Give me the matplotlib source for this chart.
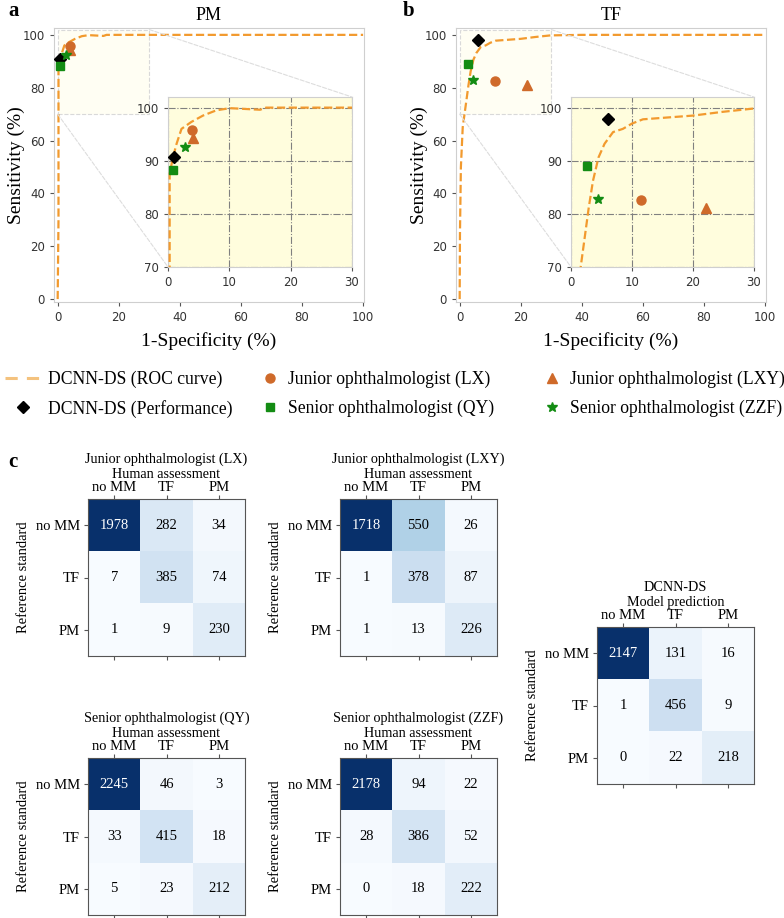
import matplotlib
matplotlib.use('Agg')
import matplotlib.pyplot as plt
import numpy as np
from matplotlib.lines import Line2D
from matplotlib.patches import Rectangle, ConnectionPatch

plt.rcParams['font.family'] = ['Liberation Serif', 'DejaVu Serif']

# ROC curves (1-specificity %, sensitivity %)
pm_fpr = [0, 0.27, 0.27, 0.8, 1.4, 2.2, 3.8, 5.7, 7.9, 10.1, 15, 16, 30, 100]
pm_tpr = [0, 30, 87.5, 90.6, 93.2, 96.0, 97.3, 98.5, 99.5, 99.9, 99.6, 100, 100, 100]
tf_fpr = [0, 0.1, 0.4, 1.0, 1.6, 2.3, 2.9, 3.6, 4.5, 5.5, 6.9, 8.5, 10, 11.8, 20, 24.8, 29.7, 40, 100]
tf_tpr = [0, 25, 50, 65, 70.1, 76, 81.1, 86.2, 90.6, 93.2, 95.4, 96, 97, 97.8, 98.5, 99.2, 99.8, 100, 100]

# operating points: DCNN-DS, LX, LXY, QY, ZZF
reader_names = ['DCNN-DS (Performance)', 'Junior ophthalmologist (LX)',
                'Junior ophthalmologist (LXY)', 'Senior ophthalmologist (QY)',
                'Senior ophthalmologist (ZZF)']
pm_x = [0.9, 3.9, 4.1, 0.8, 2.7]
pm_y = [90.8, 95.8, 94.2, 88.3, 92.5]
tf_x = [6.0, 11.5, 22.2, 2.7, 4.4]
tf_y = [97.9, 82.6, 81.1, 89.1, 82.8]

# confusion matrices (rows: reference standard, cols: assessment)
class_labels = ['no MM', 'TF', 'PM']
cm_lx = [[1978, 282, 34], [7, 385, 74], [1, 9, 230]]
cm_lxy = [[1718, 550, 26], [1, 378, 87], [1, 13, 226]]
cm_qy = [[2245, 46, 3], [33, 415, 18], [5, 23, 212]]
cm_zzf = [[2178, 94, 22], [28, 386, 52], [0, 18, 222]]
cm_dcnn = [[2147, 131, 16], [1, 456, 9], [0, 22, 218]]

orange = '#f29a2e'
brown = '#cf6a2a'
green = '#138c13'
markers = ['D', 'o', '^', 's', '*']
mcolors = ['black', brown, brown, green, green]
msizes = [6.5, 6.5, 6.5, 6, 7.5]

W, H = 784, 918
fig = plt.figure(figsize=(W / 100, H / 100), dpi=100)


def px_rect(left, top, width, height):
    return [left / W, 1 - (top + height) / H, width / W, height / H]


def style_roc_axis(ax):
    for s in ax.spines.values():
        s.set_color('#cfcfcf')
    ax.tick_params(labelsize=8.5, labelcolor='#333333', color='#555555',
                   length=3, labelfontfamily='DejaVu Sans')


def roc_panel(rect, inset_rect, fpr, tpr, xs, ys, title):
    ax = fig.add_axes(rect)
    ax.add_patch(Rectangle((0, 70), 30, 32, fc='#fffef3', ec='#d9d9d9',
                           ls='--', lw=0.8, zorder=0))
    ax.plot(fpr, tpr, ls='--', color=orange, lw=1.6, zorder=3)
    for x, y, m, c, s in zip(xs, ys, markers, mcolors, msizes):
        ax.plot(x, y, marker=m, color=c, ms=s, ls='none', zorder=4)
    ax.set_xlim(-1.2, 100.3)
    ax.set_ylim(-1.1, 102.6)
    ax.set_xticks([0, 20, 40, 60, 80, 100])
    ax.set_yticks([0, 20, 40, 60, 80, 100])
    style_roc_axis(ax)
    ax.set_title(title, fontsize=13, pad=6)
    ax.set_xlabel('1-Specificity (%)', fontsize=14, labelpad=6)
    ax.set_ylabel('Sensitivity (%)', fontsize=14, labelpad=-2)

    axin = fig.add_axes(inset_rect)
    axin.set_facecolor('#fffddd')
    axin.plot(fpr, tpr, ls='--', color=orange, lw=1.6, zorder=3)
    for x, y, m, c, s in zip(xs, ys, markers, mcolors, msizes):
        axin.plot(x, y, marker=m, color=c, ms=s, ls='none', zorder=4)
    axin.set_xlim(0, 30)
    axin.set_ylim(70, 102)
    axin.set_xticks([0, 10, 20, 30])
    axin.set_yticks([70, 80, 90, 100])
    axin.grid(True, ls='-.', color='#808080', lw=0.8)
    axin.set_axisbelow(True)
    style_roc_axis(axin)

    for pa, pb in [((0, 70), (0, 70)), ((30, 102), (30, 102))]:
        con = ConnectionPatch(xyA=pa, coordsA=ax.transData, xyB=pb,
                              coordsB=axin.transData, color='#dddddd',
                              ls='--', lw=0.8, zorder=1)
        fig.add_artist(con)
    return ax, axin


roc_panel(px_rect(54, 28, 310, 274), px_rect(168, 97, 184, 170),
          pm_fpr, pm_tpr, pm_x, pm_y, 'PM')
roc_panel(px_rect(456, 28, 310, 274), px_rect(571, 97, 183, 170),
          tf_fpr, tf_tpr, tf_x, tf_y, 'TF')

fig.text(8 / W, 1 - 11 / H, 'a', fontsize=15, weight='bold', va='center')
fig.text(403 / W, 1 - 11 / H, 'b', fontsize=15, weight='bold', va='center')
fig.text(8 / W, 1 - 462 / H, 'c', fontsize=15, weight='bold', va='center')

# legend, laid out as three columns
roc_handle = Line2D([], [], ls='--', dashes=(4, 3), color='#f4c27e', lw=2.2)
pt_handles = [Line2D([], [], marker=m, color=c, ms=s, ls='none')
              for m, c, s in zip(markers, mcolors, msizes)]
columns = [
    ([roc_handle, pt_handles[0]], ['DCNN-DS (ROC curve)', reader_names[0]], 5, 2.0),
    ([pt_handles[1], pt_handles[3]], [reader_names[1], reader_names[3]], 259, 1.2),
    ([pt_handles[2], pt_handles[4]], [reader_names[2], reader_names[4]], 541, 1.2),
]
for hs, ls, xleft, hl in columns:
    fig.legend(hs, ls, loc='upper left', bbox_to_anchor=(xleft / W, 1 - 371 / H),
               frameon=False, fontsize=12.7, borderpad=0, borderaxespad=0,
               handlelength=hl, handletextpad=0.45, labelspacing=0.65)


def cm_panel(rect, mat, top_label):
    ax = fig.add_axes(rect)
    m = np.array(mat)
    ax.imshow(m, cmap='Blues', vmin=0, vmax=m.max(), aspect='auto')
    for i in range(3):
        for j in range(3):
            ax.text(j, i, str(m[i, j]), ha='center', va='center', fontsize=10.5,
                    color='white' if m[i, j] > m.max() / 2 else 'black')
    ax.set_xticks(range(3))
    ax.set_xticklabels(class_labels)
    ax.set_yticks(range(3))
    ax.set_yticklabels(class_labels)
    ax.tick_params(top=True, labeltop=True, bottom=True, labelbottom=False,
                   labelsize=10.5, length=3, color='#555555', pad=0.5)
    ax.tick_params(axis='y', pad=3)
    ax.xaxis.set_label_position('top')
    ax.set_xlabel(top_label, fontsize=10.2, linespacing=1.2, labelpad=2)
    ax.set_ylabel('Reference standard', fontsize=10.5, labelpad=4)
    for s in ax.spines.values():
        s.set_color('#555555')
    return ax


cm_panel(px_rect(88, 499, 157, 157), cm_lx, 'Junior ophthalmologist (LX)\nHuman assessment')
cm_panel(px_rect(340, 499, 157, 157), cm_lxy, 'Junior ophthalmologist (LXY)\nHuman assessment')
cm_panel(px_rect(88, 758, 157, 157), cm_qy, 'Senior ophthalmologist (QY)\nHuman assessment')
cm_panel(px_rect(340, 758, 157, 157), cm_zzf, 'Senior ophthalmologist (ZZF)\nHuman assessment')
cm_panel(px_rect(597, 627, 157, 157), cm_dcnn, 'DCNN-DS\nModel prediction')

fig.savefig('out.png', dpi=100, facecolor='white')
